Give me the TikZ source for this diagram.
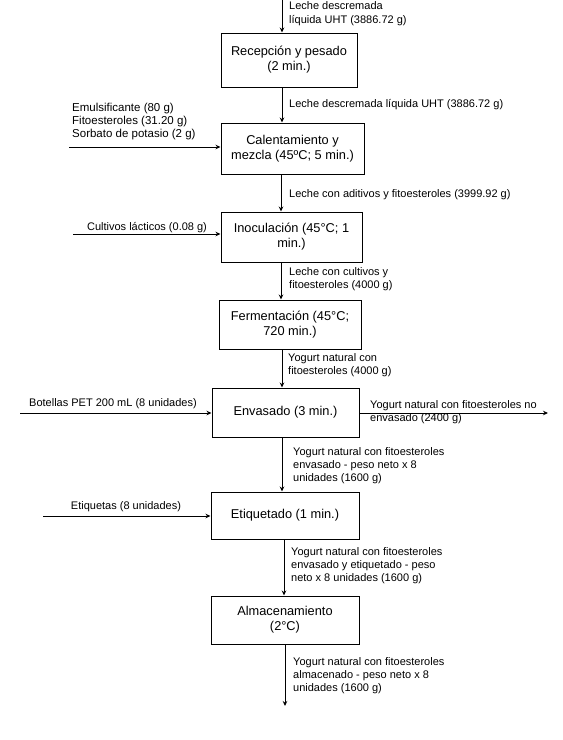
\documentclass[tikz,border=0pt]{standalone}
\usepackage{fontspec}
\setmainfont{Liberation Sans}
\usetikzlibrary{arrows.meta}
\begin{document}
\begin{tikzpicture}[x=1pt,y=-1pt,
  procbox/.style={draw=black,line width=1pt,rectangle,align=center,inner sep=0pt,
    font=\fontsize{12.8}{15}\selectfont},
  lbl/.style={anchor=west,align=left,inner sep=0pt,font=\fontsize{11}{13.2}\selectfont},
  clbl/.style={anchor=center,align=center,inner sep=0pt,font=\fontsize{11}{13.2}\selectfont},
  flow/.style={draw=black,line width=0.9pt,-{Stealth[length=5pt,width=4.5pt]}}]
\useasboundingbox (0,0) rectangle (563,740);
% boxes
\node[procbox,minimum width=136pt,minimum height=54pt] (b1) at (289,60) {Recepción y pesado\\(2 min.)};
\node[procbox,minimum width=143pt,minimum height=51pt] (b2) at (292.5,148.5) {Calentamiento y\\mezcla (45ºC; 5 min.)};
\node[procbox,minimum width=141pt,minimum height=50pt] (b3) at (291.5,237) {Inoculación (45°C; 1\\min.)};
\node[procbox,minimum width=142pt,minimum height=49pt] (b4) at (290,324.5) {Fermentación (45°C;\\720 min.)};
\node[procbox,minimum width=147pt,minimum height=49pt] (b5) at (285.5,412.5) {Envasado (3 min.)};
\node[procbox,minimum width=148pt,minimum height=47pt] (b6) at (285,515.5) {Etiquetado (1 min.)};
\node[procbox,minimum width=148pt,minimum height=48pt] (b7) at (285,620) {Almacenamiento\\(2°C)};
% free ends
\coordinate (top) at (282,0);
\coordinate (in2) at (69,147);
\coordinate (in3) at (73,234);
\coordinate (in5) at (20,413);
\coordinate (out5) at (548,413);
\coordinate (in6) at (43,516);
\coordinate (end) at (285,706);
% main flow
\draw[flow] (top) -- (top |- b1.north);
\draw[flow] (b1.south -| top) -- (b2.north -| top);
\draw[flow] ([xshift=-1pt]b2.south -| top) -- ([xshift=-1pt]b3.north -| top);
\draw[flow] ([xshift=-1pt]b3.south -| top) -- ([xshift=-1pt]b4.north -| top);
\draw[flow] (b4.south -| top) -- (b5.north -| top);
\draw[flow] (b5.south -| top) -- (b6.north -| top);
\draw[flow] ([xshift=2pt]b6.south -| top) -- ([xshift=2pt]b7.north -| top);
\draw[flow] (b7.south -| end) -- (end);
% side flows
\draw[flow] (in2) -- (in2 -| b2.west);
\draw[flow] (in3) -- (in3 -| b3.west);
\draw[flow] (in5) -- (in5 -| b5.west);
\draw[flow] (out5 -| b5.east) -- (out5);
\draw[flow] (in6) -- (in6 -| b6.west);
% labels
\node[lbl,font=\fontsize{11}{14.5}\selectfont] (l0) at (289,13.5) {Leche descremada\\líquida UHT (3886.72 g)};
\node[lbl] (l1) at (289,105) {Leche descremada líquida UHT (3886.72 g)};
\node[lbl,font=\fontsize{11.5}{13}\selectfont] (li2) at (72,121.5) {Emulsificante (80 g)\\Fitoesteroles (31.20 g)\\Sorbato de potasio (2 g)};
\node[lbl] (l2) at (289,195) {Leche con aditivos y fitoesteroles (3999.92 g)};
\node[clbl] (li3) at (147,228) {Cultivos lácticos (0.08 g)};
\node[lbl] (l3) at (289,279) {Leche con cultivos y\\fitoesteroles (4000 g)};
\node[lbl] (l4) at (288,365.5) {Yogurt natural con\\fitoesteroles (4000 g)};
\node[lbl] (li5) at (29,404) {Botellas PET 200 mL (8 unidades)};
\node[lbl] (lo5) at (370,412.5) {Yogurt natural con fitoesteroles no\\envasado (2400 g)};
\node[lbl] (l5) at (293,465.5) {Yogurt natural con fitoesteroles\\envasado - peso neto x 8\\unidades (1600 g)};
\node[clbl] (li6) at (126,507) {Etiquetas (8 unidades)};
\node[lbl] (l6) at (291,565.5) {Yogurt natural con fitoesteroles\\envasado y etiquetado - peso\\neto x 8 unidades (1600 g)};
\node[lbl] (l7) at (293,675.5) {Yogurt natural con fitoesteroles\\almacenado - peso neto x 8\\unidades (1600 g)};
\end{tikzpicture}
\end{document}
